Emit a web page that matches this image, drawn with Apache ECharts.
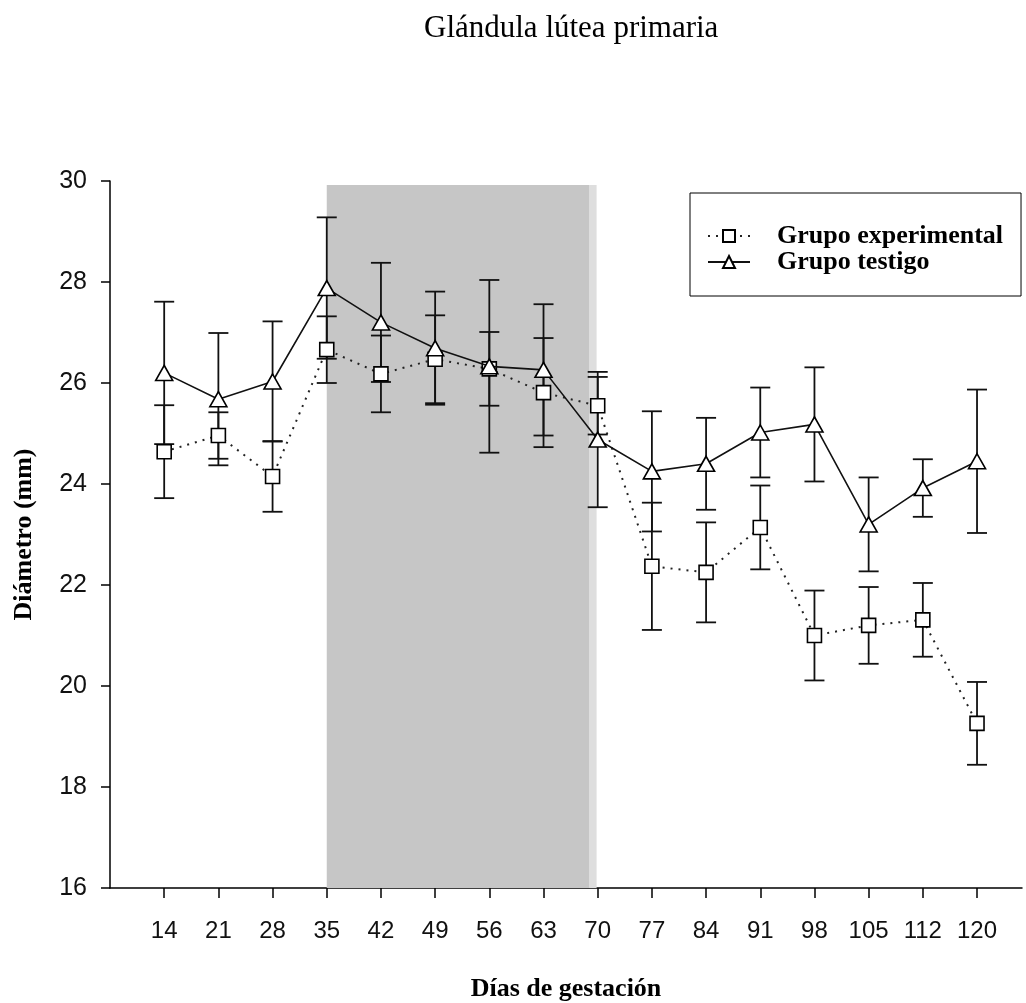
<!DOCTYPE html>
<html>
<head>
<meta charset="utf-8">
<script src="https://cdn.jsdelivr.net/npm/echarts@6/dist/echarts.min.js"></script>
<style>
  html, body { margin: 0; padding: 0; background: #fff; }
  #chart { width: 1026px; height: 1003px; }
</style>
</head>
<body>
<div id="chart"></div>
<script>
// ---- data ----
const dayLabels = ['14','21','28','35','42','49','56','63','70','77','84','91','98','105','112','120'];
const experimentalMean = [24.64, 24.96, 24.15, 26.66, 26.18, 26.47, 26.28, 25.81, 25.55, 22.37, 22.25, 23.14, 21.00, 21.20, 21.31, 19.26];
const experimentalErr  = [0.92, 0.46, 0.70, 0.66, 0.76, 0.87, 0.73, 1.08, 0.57, 1.26, 0.99, 0.83, 0.89, 0.76, 0.73, 0.82];
const testigoMean = [26.20, 25.68, 26.03, 27.88, 27.20, 26.69, 26.33, 26.26, 24.88, 24.25, 24.40, 25.02, 25.18, 23.20, 23.92, 24.45];
const testigoErr  = [1.41, 1.31, 1.19, 1.40, 1.18, 1.12, 1.71, 1.30, 1.34, 1.19, 0.91, 0.89, 1.13, 0.93, 0.57, 1.42];
const yTicks = [16, 18, 20, 22, 24, 26, 28, 30];
// shaded period (category index of day 35 to day 70), upper value
const shadeStart = 3, shadeEnd = 7.84, shadeEdgeEnd = 7.98, shadeTop = 29.92;

const idx = dayLabels.map((_, i) => i);
const pts = (arr) => arr.map((v, i) => [i, v]);
const errData = (m, e) => m.map((v, i) => [i, v - e[i], v + e[i]]);

function errorBarRender(params, api) {
  const x = api.value(0);
  const lo = api.coord([x, api.value(1)]);
  const hi = api.coord([x, api.value(2)]);
  const hw = 10;
  const style = { stroke: '#111', lineWidth: 1.8 };
  return {
    type: 'group',
    children: [
      { type: 'line', shape: { x1: hi[0], y1: hi[1], x2: lo[0], y2: lo[1] }, style },
      { type: 'line', shape: { x1: hi[0] - hw, y1: hi[1], x2: hi[0] + hw, y2: hi[1] }, style },
      { type: 'line', shape: { x1: lo[0] - hw, y1: lo[1], x2: lo[0] + hw, y2: lo[1] }, style }
    ]
  };
}

const chart = echarts.init(document.getElementById('chart'), null, { renderer: 'canvas' });
const option = {
  backgroundColor: '#fff',
  animation: false,
  title: {
    text: 'Glándula lútea primaria',
    left: 424, top: 13, padding: 0,
    textStyle: { fontFamily: 'Liberation Serif', fontSize: 31, fontWeight: 'normal', color: '#000' }
  },
  grid: { left: 110, top: 181, right: 4, bottom: 115, outerBoundsMode: 'none', containLabel: false },
  legend: {
    orient: 'vertical',
    left: 690, top: 193,
    padding: [30, 18, 21, 17],
    itemGap: 0,
    itemWidth: 42, itemHeight: 15,
    borderColor: '#000', borderWidth: 1,
    data: ['Grupo experimental', 'Grupo testigo'],
    textStyle: { fontFamily: 'Liberation Serif', fontSize: 26, fontWeight: 'bold', color: '#000', padding: [0, 0, 0, 22] }
  },
  xAxis: {
    type: 'value',
    min: -1, max: 15.83,
    name: 'Días de gestación',
    nameLocation: 'middle',
    nameGap: 88,
    nameTextStyle: { fontFamily: 'Liberation Serif', fontSize: 26, fontWeight: 'bold', color: '#000' },
    axisLine: { onZero: false, lineStyle: { color: '#000', width: 1.5 } },
    axisTick: { show: true, length: 10, customValues: idx, lineStyle: { color: '#000', width: 1.5 } },
    axisLabel: {
      customValues: idx,
      margin: 31,
      formatter: (v) => dayLabels[Math.round(v)] ?? '',
      fontFamily: 'Liberation Sans', fontSize: 24, color: '#111'
    },
    splitLine: { show: false }
  },
  yAxis: {
    type: 'value',
    min: yTicks[0], max: yTicks[yTicks.length - 1], interval: 2,
    name: 'Diámetro (mm)',
    nameLocation: 'middle',
    nameGap: 73,
    nameRotate: 90,
    nameTextStyle: { fontFamily: 'Liberation Serif', fontSize: 26, fontWeight: 'bold', color: '#000' },
    axisLine: { show: true, onZero: false, lineStyle: { color: '#000', width: 1.5 } },
    axisTick: { show: true, length: 9, lineStyle: { color: '#000', width: 1.5 } },
    axisLabel: { margin: 23, fontFamily: 'Liberation Sans', fontSize: 25, color: '#111' },
    splitLine: { show: false }
  },
  series: [
    {
      name: 'shade', type: 'line', data: [], silent: true,
      markArea: {
        silent: true,
        data: [
          [{ coord: [shadeStart, 16], itemStyle: { color: '#c6c6c6' } }, { coord: [shadeEnd, shadeTop] }],
          [{ coord: [shadeEnd, 16], itemStyle: { color: '#dedede' } }, { coord: [shadeEdgeEnd, shadeTop] }]
        ]
      }
    },
    {
      name: 'errE', type: 'custom', renderItem: errorBarRender, data: errData(experimentalMean, experimentalErr), z: 2, silent: true
    },
    {
      name: 'errT', type: 'custom', renderItem: errorBarRender, data: errData(testigoMean, testigoErr), z: 2, silent: true
    },
    {
      name: 'Grupo experimental', type: 'line', data: pts(experimentalMean), z: 4,
      symbol: 'rect', symbolSize: 14, showAllSymbol: true,
      lineStyle: { color: '#222', width: 2, type: [2, 6] },
      itemStyle: { color: '#fff', borderColor: '#000', borderWidth: 1.6 }
    },
    {
      name: 'Grupo testigo', type: 'line', data: pts(testigoMean), z: 5,
      symbol: 'triangle', symbolSize: [17, 15], showAllSymbol: true,
      lineStyle: { color: '#111', width: 1.6 },
      itemStyle: { color: '#fff', borderColor: '#000', borderWidth: 1.6 }
    }
  ]
};
chart.setOption(option);
</script>
</body>
</html>
